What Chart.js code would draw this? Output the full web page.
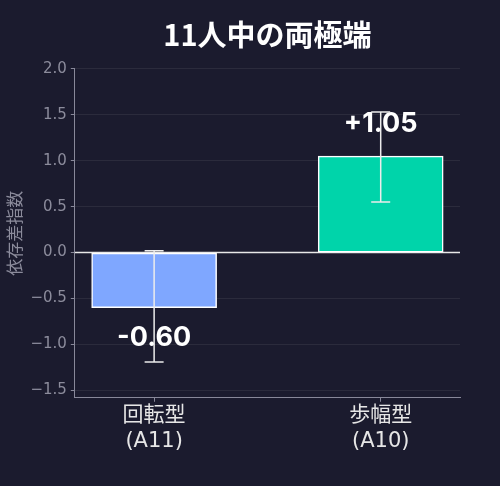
<!DOCTYPE html>
<html>
<head>
<meta charset="utf-8">
<script src="https://cdn.jsdelivr.net/npm/chart.js@4.4.0/dist/chart.umd.min.js"></script>
<style>
  html, body { margin: 0; padding: 0; background: #1b1b2e; }
  #wrap { width: 500px; height: 486px; }
</style>
</head>
<body>
<div id="wrap"><canvas id="c"></canvas></div>
<script>
// data
var categories = [["回転型", "(A11)"], ["歩幅型", "(A10)"]];
var values = [-0.60, 1.05];
var errLow = [-1.19, 0.55];
var errHigh = [0.02, 1.53];
var valueLabels = ["-0.60", "+1.05"];
var yTicks = [-1.5, -1.0, -0.5, 0.0, 0.5, 1.0, 1.5, 2.0];
var barColors = ["#7fa7ff", "#00d4aa"];

var points = [];
for (var i = 0; i < values.length; i++) {
	points.push({x: i, y: values[i]});
}

var extras = {
	id: "extras",
	beforeDatasetsDraw: function (chart) {
		var ctx = chart.ctx, a = chart.chartArea, y = chart.scales.y;
		var y0 = y.getPixelForValue(0);
		ctx.save();
		ctx.strokeStyle = "#e8e8e8";
		ctx.lineWidth = 1.5;
		ctx.beginPath();
		ctx.moveTo(a.left, y0);
		ctx.lineTo(a.right, y0);
		ctx.stroke();
		ctx.restore();
	},
	afterDatasetsDraw: function (chart) {
		var ctx = chart.ctx, xs = chart.scales.x, ys = chart.scales.y;
		ctx.save();
		// value labels first, error bars on top like the original
		ctx.fillStyle = "#ffffff";
		ctx.font = "bold 27px Inter, 'Liberation Sans', sans-serif";
		ctx.textAlign = "center";
		ctx.textBaseline = "middle";
		for (var i = 0; i < values.length; i++) {
			var off = values[i] < 0 ? -0.33 : 0.35;
			ctx.fillText(valueLabels[i], xs.getPixelForValue(i), ys.getPixelForValue(values[i] + off));
		}
		ctx.strokeStyle = "#ececec";
		ctx.lineWidth = 1.5;
		for (var i = 0; i < values.length; i++) {
			var px = xs.getPixelForValue(i);
			var lo = ys.getPixelForValue(errLow[i]);
			var hi = ys.getPixelForValue(errHigh[i]);
			ctx.beginPath();
			ctx.moveTo(px, lo); ctx.lineTo(px, hi);
			ctx.moveTo(px - 9.5, lo); ctx.lineTo(px + 9.5, lo);
			ctx.moveTo(px - 9.5, hi); ctx.lineTo(px + 9.5, hi);
			ctx.stroke();
		}
		ctx.restore();
	}
};

new Chart(document.getElementById("c"), {
	type: "bar",
	data: {
		datasets: [{
			data: points,
			backgroundColor: barColors,
			borderColor: "#ffffff",
			borderWidth: 1.5,
			borderSkipped: false,
			barThickness: 125
		}]
	},
	options: {
		responsive: true,
		maintainAspectRatio: false,
		animation: false,
		layout: { padding: { top: 6, right: 40, bottom: 31, left: 4 } },
		plugins: {
			legend: { display: false },
			tooltip: { enabled: false },
			title: {
				display: true,
				fullSize: false,
				text: "11人中の両極端",
				color: "#ffffff",
				font: { family: "'Noto Sans CJK JP', sans-serif", size: 29, weight: "bold" },
				padding: { top: 12, bottom: 16 }
			}
		},
		scales: {
			x: {
				type: "linear",
				min: -0.35,
				max: 1.35,
				offset: false,
				afterBuildTicks: function (s) { s.ticks = [{value: 0}, {value: 1}]; },
				ticks: {
					color: "#e6e6e6",
					font: { family: "'DejaVu Sans', 'Noto Sans CJK JP', sans-serif", size: 21, lineHeight: 1.22 },
					padding: 1,
					autoSkip: false,
					maxRotation: 0,
					callback: function (v) { return categories[v]; }
				},
				grid: { offset: false, drawOnChartArea: false, color: "#888899", tickLength: 4 },
				border: { color: "#888899", width: 1 }
			},
			y: {
				min: -1.58,
				max: 2.0,
				afterBuildTicks: function (s) {
					s.ticks = yTicks.map(function (v) { return {value: v}; });
				},
				ticks: {
					color: "#8c8c9c",
					font: { family: "'DejaVu Sans', sans-serif", size: 15 },
					padding: 4,
					callback: function (v) { return v.toFixed(1).replace("-", "\u2212"); }
				},
				grid: { color: "rgba(255,255,255,0.07)", tickLength: 4, tickColor: "#888899" },
				border: { color: "#888899", width: 1 },
				title: {
					display: true,
					text: "依存差指数",
					color: "#8c8c9c",
					font: { family: "'Noto Sans CJK JP', sans-serif", size: 17 },
					padding: { top: 0, bottom: 2 }
				}
			}
		}
	},
	plugins: [extras]
});
</script>
</body>
</html>
